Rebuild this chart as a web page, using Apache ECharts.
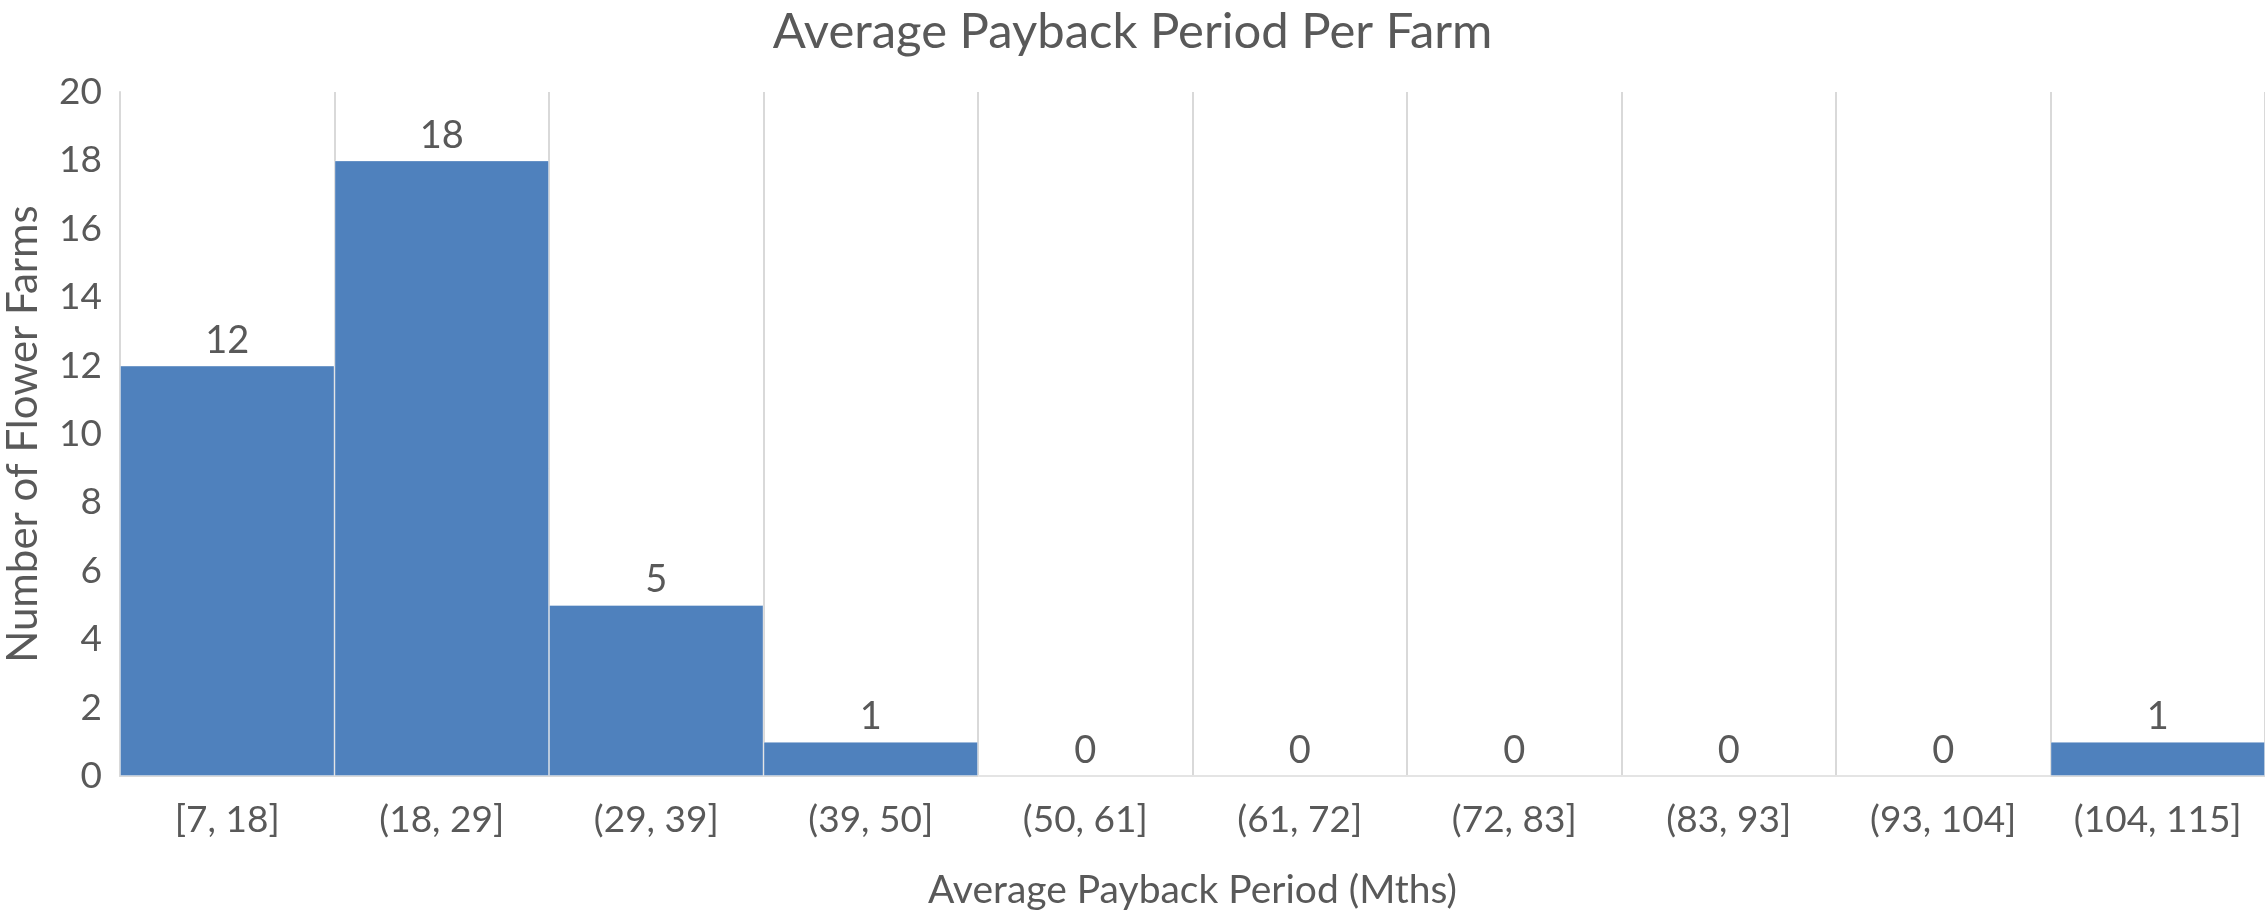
<!DOCTYPE html>
<html><head><meta charset="utf-8">
<script src="https://cdn.jsdelivr.net/npm/echarts@6/dist/echarts.min.js"></script>
<style>html,body{margin:0;padding:0;background:#fff}#c{width:2265px;height:915px}</style>
</head><body><div id="c"></div>
<script>
const categories = ['[7, 18]', '(18, 29]', '(29, 39]', '(39, 50]', '(50, 61]', '(61, 72]', '(72, 83]', '(83, 93]', '(93, 104]', '(104, 115]'];
const counts = [12, 18, 5, 1, 0, 0, 0, 0, 0, 1];
const yTicks = { min: 0, max: 20, interval: 2 };
const FONT = 'Lato';
const chart = echarts.init(document.getElementById('c'));
chart.setOption({
  backgroundColor: '#fff',
  animation: false,
  title: { text: 'Average Payback Period Per Farm', left: 'center', top: 3,
    textStyle: { fontFamily: FONT, fontSize: 49, fontWeight: 'normal', color: '#595959' } },
  grid: { left: 120, right: 0, top: 92, bottom: 139, outerBoundsMode: 'none', containLabel: false },
  xAxis: {
    type: 'category', data: categories,
    name: 'Average Payback Period (Mths)', nameLocation: 'middle', nameGap: 95,
    nameTextStyle: { fontFamily: FONT, fontSize: 39, color: '#595959' },
    axisLine: { lineStyle: { color: '#d9d9d9', width: 2 } },
    axisTick: { show: false },
    axisLabel: { fontFamily: FONT, fontSize: 37, color: '#595959', margin: 26, interval: 0 },
    splitLine: { show: true, interval: 0, lineStyle: { color: '#d9d9d9', width: 2 } }
  },
  yAxis: {
    type: 'value', min: yTicks.min, max: yTicks.max, interval: yTicks.interval,
    name: 'Number of Flower Farms', nameLocation: 'middle', nameGap: 76,
    nameTextStyle: { fontFamily: FONT, fontSize: 42, color: '#595959' },
    axisLine: { show: true, lineStyle: { color: '#d9d9d9', width: 2 } },
    axisTick: { show: false },
    axisLabel: { fontFamily: FONT, fontSize: 37, color: '#595959', margin: 18 },
    splitLine: { show: false }
  },
  series: [{
    type: 'bar', data: counts, barWidth: '100%', barCategoryGap: 0,
    itemStyle: { color: '#4F81BD', borderColor: 'rgba(255,255,255,0.35)', borderWidth: 1 },
    label: { show: true, position: 'top', distance: 6, fontFamily: FONT, fontSize: 38, color: '#595959' }
  }]
});
</script></body></html>
